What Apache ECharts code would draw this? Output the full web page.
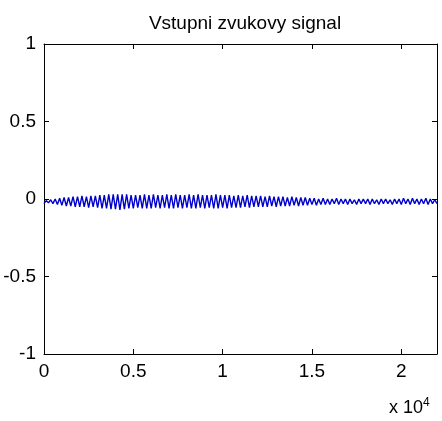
<!DOCTYPE html>
<html>
<head>
<meta charset="utf-8">
<script src="https://cdn.jsdelivr.net/npm/echarts@6/dist/echarts.min.js"></script>
<style>html,body{margin:0;padding:0;background:#fff}#c{width:442px;height:421px}</style>
</head>
<body>
<div id="c"></div>
<script>
// alternating trough/peak values, one every 125 samples
var step = 125;
var signal = [
  -0.03,-0.01,-0.025,-0.005,-0.03,0.0,-0.035,0.005,
  -0.04,0.01,-0.045,0.01,-0.045,0.015,-0.05,0.015,
  -0.05,0.02,-0.05,0.015,-0.055,0.02,-0.05,0.02,
  -0.055,0.025,-0.06,0.025,-0.06,0.03,-0.065,0.03,
  -0.065,0.03,-0.07,0.03,-0.065,0.03,-0.06,0.025,
  -0.06,0.025,-0.055,0.025,-0.06,0.03,-0.06,0.025,
  -0.06,0.03,-0.055,0.025,-0.06,0.025,-0.055,0.03,
  -0.06,0.025,-0.06,0.03,-0.055,0.025,-0.06,0.025,
  -0.055,0.03,-0.06,0.025,-0.06,0.03,-0.055,0.025,
  -0.06,0.025,-0.055,0.025,-0.06,0.03,-0.06,0.025,
  -0.055,0.025,-0.06,0.025,-0.055,0.02,-0.055,0.025,
  -0.055,0.02,-0.05,0.025,-0.055,0.02,-0.05,0.02,
  -0.05,0.02,-0.05,0.015,-0.05,0.02,-0.045,0.015,
  -0.05,0.015,-0.045,0.015,-0.045,0.01,-0.045,0.015,
  -0.04,0.01,-0.045,0.01,-0.04,0.01,-0.04,0.005,
  -0.035,0.005,-0.04,0.0,-0.035,0.005,-0.035,0.0,
  -0.035,0.0,-0.03,0.005,-0.035,0.0,-0.03,0.0,
  -0.035,0.0,-0.03,-0.005,-0.035,0.0,-0.03,0.0,
  -0.03,0.0,-0.035,0.0,-0.03,-0.005,-0.035,0.0,
  -0.03,0.0,-0.03,-0.005,-0.035,0.0,-0.03,0.0,
  -0.035,0.005,-0.03,0.0,-0.035,0.005,-0.03,0.0,
  -0.035,0.0,-0.03,0.005,-0.035,0.0,-0.03,-0.005,
  -0.03
];
var xTicks = [0, 5000, 10000, 15000, 20000];
var yTicks = [-1, -0.5, 0, 0.5, 1];

var pts = signal.map(function(v, i) { return [i * step, v]; });
var font = 'Arial, "Liberation Sans", sans-serif';
var chart = echarts.init(document.getElementById('c'));
var tick = { show: true, inside: true, length: 5, lineStyle: { color: '#000' } };
var line = { show: true, onZero: false, lineStyle: { color: '#000', width: 1 } };
chart.setOption({
  animation: false,
  title: { text: 'Vstupni zvukovy signal', left: 240, top: 9, textAlign: 'center',
    textStyle: { fontFamily: font, fontSize: 19, fontWeight: 'normal', color: '#000' } },
  grid: { left: 44, right: 5, top: 44, bottom: 67 },
  xAxis: [
    { type: 'value', min: 0, max: 22000, interval: 5000, axisLine: line, axisTick: tick, splitLine: { show: false },
      axisLabel: { color: '#000', fontFamily: font, fontSize: 19, margin: 8, showMaxLabel: false,
        formatter: function(v) { return xTicks.indexOf(v) >= 0 ? String(v / 10000) : ''; } } },
    { type: 'value', position: 'top', min: 0, max: 22000, interval: 5000, axisLine: line, axisTick: tick,
      axisLabel: { show: false }, splitLine: { show: false } }
  ],
  yAxis: [
    { type: 'value', min: -1, max: 1, interval: 0.5, axisLine: line, axisTick: tick, splitLine: { show: false },
      axisLabel: { color: '#000', fontFamily: font, fontSize: 19, margin: 8,
        formatter: function(v) { return yTicks.indexOf(v) >= 0 ? String(v) : ''; } } },
    { type: 'value', position: 'right', min: -1, max: 1, interval: 0.5, axisLine: line, axisTick: tick,
      axisLabel: { show: false }, splitLine: { show: false } }
  ],
  graphic: [{ type: 'text', left: 389, top: 397,
    style: { text: 'x 10{s|4}', fill: '#000', font: '18px ' + font,
      rich: { s: { fontSize: 12, verticalAlign: 'top', padding: [0, 0, 10, 0], fontFamily: font } } } }],
  series: [{ type: 'line', data: pts, showSymbol: false, xAxisIndex: 0, yAxisIndex: 0,
    lineStyle: { color: '#0000cc', width: 1.4 } }]
});
</script>
</body>
</html>
